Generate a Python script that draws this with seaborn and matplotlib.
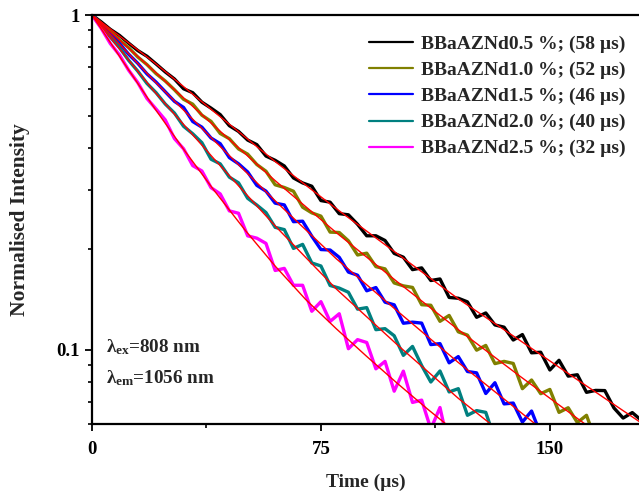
import numpy as np
import pandas as pd
import matplotlib
matplotlib.use("Agg")
import matplotlib.pyplot as plt
import seaborn as sns
from matplotlib.lines import Line2D
from matplotlib.ticker import FixedLocator, NullFormatter, FixedFormatter, LogLocator

# ---------------- data ----------------
samples = ["BBaAZNd0.5 %; (58 µs)", "BBaAZNd1.0 %; (52 µs)", "BBaAZNd1.5 %; (46 µs)",
           "BBaAZNd2.0 %; (40 µs)", "BBaAZNd2.5 %; (32 µs)"]
colors = ["#000000", "#808000", "#0000FF", "#008080", "#FF00FF"]

data_step = 3.0  # µs between listed measured points
black_data = [1.000, 0.954, 0.906, 0.869, 0.824, 0.783, 0.753, 0.714, 0.676, 0.644, 0.602, 0.586,
              0.549, 0.527, 0.504, 0.467, 0.449, 0.423, 0.410, 0.379, 0.368, 0.354, 0.326, 0.315,
              0.308, 0.279, 0.276, 0.255, 0.253, 0.237, 0.219, 0.219, 0.212, 0.194, 0.189, 0.1735,
              0.1756, 0.161, 0.1627, 0.1433, 0.1425, 0.139, 0.125, 0.1288, 0.1186, 0.1168, 0.1069,
              0.111, 0.0979, 0.0983, 0.087, 0.093, 0.0834, 0.0842, 0.0746, 0.0756, 0.0755, 0.067,
              0.0625, 0.0649, 0.0615]
olive_data = [1.000, 0.943, 0.895, 0.842, 0.799, 0.749, 0.711, 0.668, 0.635, 0.598, 0.560, 0.5415,
              0.502, 0.481, 0.4427, 0.427, 0.398, 0.384, 0.3575, 0.3414, 0.311, 0.3053, 0.2975,
              0.2666, 0.2564, 0.2507, 0.2246, 0.224, 0.2115, 0.1919, 0.1943, 0.1771, 0.1744, 0.1583,
              0.1552, 0.1535, 0.1363, 0.1358, 0.1216, 0.1266, 0.1131, 0.1106, 0.0997, 0.103, 0.0909,
              0.0923, 0.091, 0.0765, 0.0812, 0.0739, 0.0761, 0.065, 0.0671, 0.0606, 0.0637, 0.0536,
              0.0551]
blue_data = [1.000, 0.9377, 0.8737, 0.8219, 0.7636, 0.7172, 0.6669, 0.6301, 0.5898, 0.5522, 0.5294,
             0.4806, 0.4623, 0.429, 0.4127, 0.3749, 0.3594, 0.3397, 0.3098, 0.2977, 0.2741, 0.2708,
             0.2413, 0.2421, 0.2184, 0.1992, 0.1986, 0.1888, 0.1706, 0.167, 0.15, 0.1534, 0.1387,
             0.1362, 0.12, 0.1209, 0.1201, 0.1036, 0.1043, 0.0914, 0.0954, 0.0861, 0.0853, 0.074,
             0.0797, 0.0689, 0.0693, 0.0608, 0.0656, 0.0559, 0.0597]
teal_data = [1.000, 0.9212, 0.8593, 0.7986, 0.7321, 0.6797, 0.6247, 0.5859, 0.542, 0.5095, 0.4651,
             0.4418, 0.4155, 0.3708, 0.3592, 0.3278, 0.3152, 0.2834, 0.2705, 0.2569, 0.2321, 0.2285,
             0.2008, 0.2064, 0.1817, 0.1779, 0.1556, 0.1528, 0.1485, 0.1322, 0.1336, 0.1148, 0.1156,
             0.1101, 0.0962, 0.1023, 0.0897, 0.0801, 0.0864, 0.0748, 0.0765, 0.0637, 0.0658, 0.065,
             0.0539, 0.0575]
magenta_data = [1.000, 0.9132, 0.8217, 0.7595, 0.6841, 0.628, 0.5632, 0.5235, 0.4859, 0.4275, 0.3984,
                0.3549, 0.342, 0.3049, 0.2921, 0.2599, 0.2557, 0.2189, 0.2154, 0.2078, 0.1725, 0.175,
                0.1558, 0.1558, 0.1303, 0.1392, 0.1215, 0.1281, 0.1007, 0.1072, 0.1051, 0.0877, 0.0923,
                0.0752, 0.0863, 0.0696, 0.0707, 0.058, 0.0672, 0.0507, 0.0591, 0.0592, 0.047]

# fitted decay curves (red lines)
fit_time = [0, 20, 40, 60, 80, 100, 120, 140, 160, 180]
black_fit = [1.0, 0.726, 0.514, 0.365, 0.264, 0.1936, 0.1419, 0.1069, 0.0802, 0.0604]
olive_fit = [1.0, 0.684, 0.4667, 0.320, 0.2239, 0.1596, 0.1148, 0.0836, 0.0614, 0.0452]
blue_fit = [1.0, 0.641, 0.4217, 0.2786, 0.1871, 0.1306, 0.0916, 0.0655, 0.0468]
teal_fit = [1.0, 0.597, 0.3715, 0.2344, 0.152, 0.1035, 0.0716, 0.0513]
magenta_fit_time = [0, 10, 20, 30, 40, 50, 60, 70, 80, 90, 100, 110, 120]
magenta_fit = [1.0, 0.7295, 0.5346, 0.3972, 0.2992, 0.2286, 0.1778, 0.1413, 0.1156, 0.0955,
               0.0794, 0.0664, 0.056]

x_ticks = [0, 75, 150]
y_ticks = [0.1, 1]
y_ticklabels = ["0.1", "1"]

# ---------------- frames ----------------
data_sets = [black_data, olive_data, blue_data, teal_data, magenta_data]
frames = []
for name, vals in zip(samples, data_sets):
    frames.append(pd.DataFrame({"time": data_step * np.arange(len(vals)),
                                "intensity": vals, "sample": name}))
df = pd.concat(frames, ignore_index=True)

fit_sets = [(fit_time, black_fit), (fit_time, olive_fit), (fit_time, blue_fit),
            (fit_time, teal_fit), (magenta_fit_time, magenta_fit)]
fframes = []
for name, (tt, vals) in zip(samples, fit_sets):
    fframes.append(pd.DataFrame({"time": tt[:len(vals)], "intensity": vals, "sample": name}))
dff = pd.concat(fframes, ignore_index=True)

# ---------------- style ----------------
sns.set_theme(style="ticks")
plt.rcParams["font.family"] = ["Liberation Serif", "DejaVu Serif"]
plt.rcParams["font.weight"] = "bold"
plt.rcParams["mathtext.fontset"] = "custom"
plt.rcParams["mathtext.rm"] = "Liberation Serif:bold"
plt.rcParams["mathtext.it"] = "Liberation Serif:bold"
plt.rcParams["mathtext.bf"] = "Liberation Serif:bold"

fig = plt.figure(figsize=(6.39, 4.93), dpi=100)
ax = fig.add_axes([92 / 639, 1 - 424 / 493, 547 / 639, 409 / 493])

sns.lineplot(data=df, x="time", y="intensity", hue="sample", hue_order=samples,
             palette=colors, estimator=None, sort=False, lw=2.4, legend=False, ax=ax)
sns.lineplot(data=dff, x="time", y="intensity", hue="sample", hue_order=samples,
             palette=["#FF0000"] * 5, estimator=None, sort=False, lw=1.0, legend=False, ax=ax)

ax.set_yscale("log")
ax.set_xlim(0, 179.2)
ax.set_ylim(0.06, 1.0)

ax.xaxis.set_major_locator(FixedLocator(x_ticks))
ax.xaxis.set_minor_locator(FixedLocator([37.5, 112.5]))
ax.yaxis.set_major_locator(FixedLocator(y_ticks))
ax.yaxis.set_major_formatter(FixedFormatter(y_ticklabels))
ax.yaxis.set_minor_locator(LogLocator(base=10, subs=np.arange(2, 10) / 1.0, numticks=10))
ax.yaxis.set_minor_formatter(NullFormatter())

ax.tick_params(axis="both", which="major", direction="out", length=5, width=1.3,
               labelsize=13.5, colors="black")
ax.tick_params(axis="x", which="major", pad=7)
ax.tick_params(axis="y", which="major", pad=4)
ax.tick_params(axis="both", which="minor", direction="out", length=3, width=1.2, colors="black")
for lab in ax.get_xticklabels() + ax.get_yticklabels():
    lab.set_fontweight("bold")

for s in ["left", "bottom", "top"]:
    ax.spines[s].set_linewidth(1.6)
    ax.spines[s].set_color("black")
ax.spines["right"].set_visible(False)

ax.set_xlabel("Time (µs)", fontsize=14, fontweight="bold")
ax.xaxis.set_label_coords(0.5, -(487 - 424) / 409)
ax.xaxis.label.set_va("baseline")
ax.set_ylabel("Normalised Intensity", fontsize=15.5, fontweight="bold")
ax.yaxis.set_label_coords(-(92 - 30) / 547, 0.5)

handles = [Line2D([0], [0], color=c, lw=1.6) for c in colors]
leg = ax.legend(handles, samples, loc="upper right", bbox_to_anchor=(639 / 639, 1 - 22 / 493),
                bbox_transform=fig.transFigure, frameon=False, fontsize=14,
                handlelength=2.25, handletextpad=0.4, labelspacing=0.43, borderpad=0.2)
for t in leg.get_texts():
    t.set_fontweight("bold")

fig.text(106 / 639, 1 - 352 / 493, r"$\lambda_{\mathrm{ex}}$=808 nm", fontsize=13.8,
         fontweight="bold", va="baseline", ha="left")
fig.text(106 / 639, 1 - 383 / 493, r"$\lambda_{\mathrm{em}}$=1056 nm", fontsize=13.8,
         fontweight="bold", va="baseline", ha="left")

fig.savefig("out.png", dpi=100, facecolor="white")
